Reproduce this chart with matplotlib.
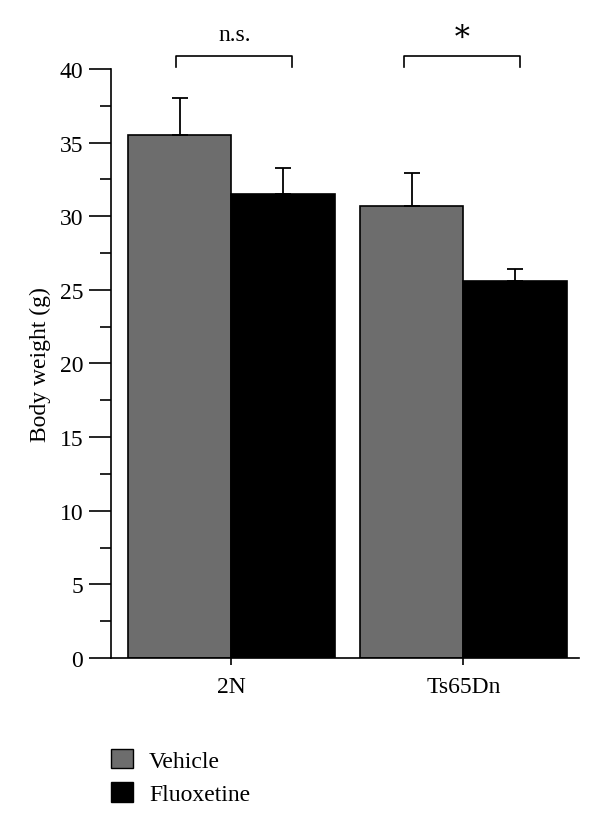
import numpy as np
import matplotlib
matplotlib.use("Agg")
import matplotlib.pyplot as plt
from matplotlib.patches import Patch

plt.rcParams['font.family'] = ['Liberation Serif', 'DejaVu Serif']

groups = ['2N', 'Ts65Dn']
vehicle = [35.5, 30.7]
vehicle_err = [2.55, 2.25]
fluoxetine = [31.5, 25.6]
fluoxetine_err = [1.75, 0.85]
signif = ['n.s.', '*']

fig = plt.figure(figsize=(6, 8.28), dpi=100)
ax = fig.add_axes([0.185, 0.2041, 0.78, 0.7114])

x = np.arange(len(groups))
w = 0.446
ax.bar(x - w / 2, vehicle, w, color='#6d6d6d', edgecolor='black', linewidth=1.2, label='Vehicle')
ax.bar(x + w / 2, fluoxetine, w, color='black', edgecolor='black', linewidth=1.2, label='Fluoxetine')
ax.errorbar(x - w / 2, vehicle, yerr=[np.zeros(2), vehicle_err], fmt='none',
            ecolor='black', elinewidth=1.3, capsize=6, capthick=1.3)
ax.errorbar(x + w / 2, fluoxetine, yerr=[np.zeros(2), fluoxetine_err], fmt='none',
            ecolor='black', elinewidth=1.3, capsize=6, capthick=1.3)

# significance brackets
for xi, s in zip(x, signif):
    x0 = xi - w / 2 - 0.015 - 0.02 * xi
    x1 = xi + w / 2 + 0.04 - 0.02 * xi
    ax.plot([x0, x0, x1, x1], [40.1, 40.85, 40.85, 40.1], color='black', lw=1.2, clip_on=False)
    if s == '*':
        ax.text((x0 + x1) / 2, 41.5, '∗', ha='center', va='bottom', fontsize=22,
                family=['Liberation Serif', 'DejaVu Serif'])
    else:
        ax.text((x0 + x1) / 2, 41.6, s, ha='center', va='bottom', fontsize=17)

ax.set_xlim(-0.519, 1.498)
ax.set_ylim(0, 40)
ax.set_yticks(np.arange(0, 41, 5))
ax.set_yticks(np.arange(2.5, 40, 5), minor=True)
ax.set_xticks(x)
ax.set_xticklabels(groups)
ax.spines['top'].set_visible(False)
ax.spines['right'].set_visible(False)
ax.spines['left'].set_linewidth(1.2)
ax.spines['bottom'].set_linewidth(1.2)
ax.tick_params(axis='y', which='major', length=16, width=1.2, labelsize=17, pad=4)
ax.tick_params(axis='y', which='minor', length=8, width=1.2)
ax.tick_params(axis='x', length=5, width=1.2, labelsize=17, pad=8)
ax.set_ylabel('Body weight (g)', fontsize=17, labelpad=6)

handles = [Patch(facecolor='#6d6d6d', edgecolor='black', label='Vehicle'),
           Patch(facecolor='black', edgecolor='black', label='Fluoxetine')]
fig.legend(handles=handles, loc='upper left', bbox_to_anchor=(0.15, 0.12), frameon=False,
           fontsize=17, handlelength=0.9, handleheight=0.9, handletextpad=0.7, labelspacing=0.45)

fig.savefig('out.png', dpi=100)
